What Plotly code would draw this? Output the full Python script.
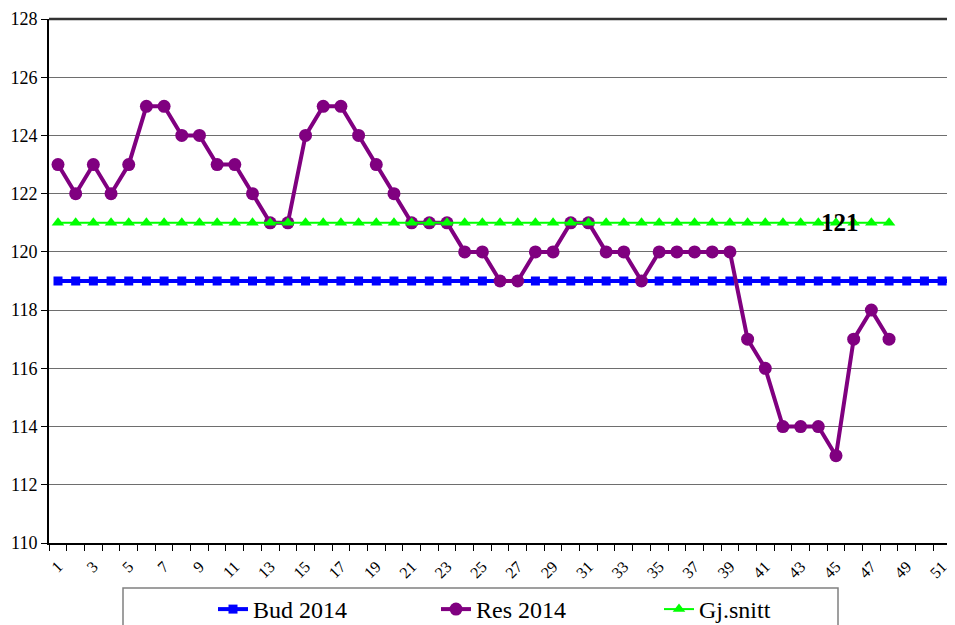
import plotly.graph_objects as go

weeks = list(range(1, 53))
bud_2014 = [119] * 52
res_2014 = [123, 122, 123, 122, 123, 125, 125, 124, 124, 123, 123, 122, 121, 121, 124, 125,
            125, 124, 123, 122, 121, 121, 121, 120, 120, 119, 119, 120, 120, 121, 121, 120,
            120, 119, 120, 120, 120, 120, 120, 117, 116, 114, 114, 114, 113, 117, 118, 117]
gj_snitt = [121] * 48
x_tick_labels = [str(w) for w in weeks if w % 2 == 1]
y_ticks = [110, 112, 114, 116, 118, 120, 122, 124, 126, 128]

FONT = "Liberation Serif"

# page body has an 8px default margin: figure coordinates = viewport - 8
W, H = 947, 617
fig = go.Figure()
fig.add_trace(go.Scatter(
    x=weeks, y=bud_2014, name="Bud 2014", mode="lines+markers",
    line=dict(color="#0000FF", width=4),
    marker=dict(symbol="square", size=9, color="#0000FF"),
))
fig.add_trace(go.Scatter(
    x=weeks[:len(res_2014)], y=res_2014, name="Res 2014", mode="lines+markers",
    line=dict(color="#800080", width=4),
    marker=dict(symbol="circle", size=13, color="#800080"),
))
fig.add_trace(go.Scatter(
    x=weeks[:len(gj_snitt)], y=gj_snitt, name="Gj.snitt", mode="lines+markers",
    line=dict(color="#00FF00", width=2),
    marker=dict(symbol="triangle-up", size=11, color="#00FF00"),
))

fig.add_annotation(x=45.2, y=121, text="<b>121</b>", showarrow=False,
                   font=dict(family=FONT, size=25, color="black"))

# legend box
fig.add_shape(type="rect", xref="paper", yref="paper",
              x0=(123 - 49) / 906, x1=(838 - 49) / 906,
              y0=-(660 - 543) / 524, y1=-(588 - 543) / 524,
              line=dict(color="#808080", width=1.5), fillcolor="rgba(0,0,0,0)")

fig.update_layout(
    width=W, height=H,
    margin=dict(l=41, r=0, t=11, b=82, autoexpand=False),
    paper_bgcolor="white", plot_bgcolor="white",
    font=dict(family=FONT, color="black"),
    showlegend=True,
    legend=dict(
        orientation="h", xref="container", yref="container",
        x=205 / W, xanchor="left",
        y=1 - 579 / H, yanchor="top",
        font=dict(family=FONT, size=24, color="black"),
        entrywidth=178, entrywidthmode="pixels",
        borderwidth=0, bgcolor="rgba(0,0,0,0)",
    ),
    xaxis=dict(
        range=[0.491, 51.73],
        tickmode="array", tickvals=[w for w in weeks if w % 2 == 1], ticktext=x_tick_labels,
        tickangle=-45, tickfont=dict(family=FONT, size=16, color="black"),
        ticklabelstandoff=6,
        ticks="", showgrid=False, zeroline=False,
        showline=True, linecolor="black", linewidth=2,
        minor=dict(ticks="outside", tickvals=[w - 0.5 for w in weeks] + [52.5],
                   ticklen=6, tickwidth=1, tickcolor="black", showgrid=False),
    ),
    yaxis=dict(
        range=[110, 128], tickmode="array", tickvals=y_ticks,
        tickfont=dict(family=FONT, size=18, color="black"),
        ticks="outside", ticklen=6, tickwidth=1, tickcolor="black",
        showgrid=True, gridcolor="#6e6e6e", gridwidth=1, zeroline=False,
        showline=True, linecolor="black", linewidth=2,
    ),
)

# top border line
fig.add_shape(type="line", xref="paper", yref="paper", x0=0, x1=1, y0=1, y1=1,
              line=dict(color="#333333", width=2.5))

fig.write_html("out.html")
